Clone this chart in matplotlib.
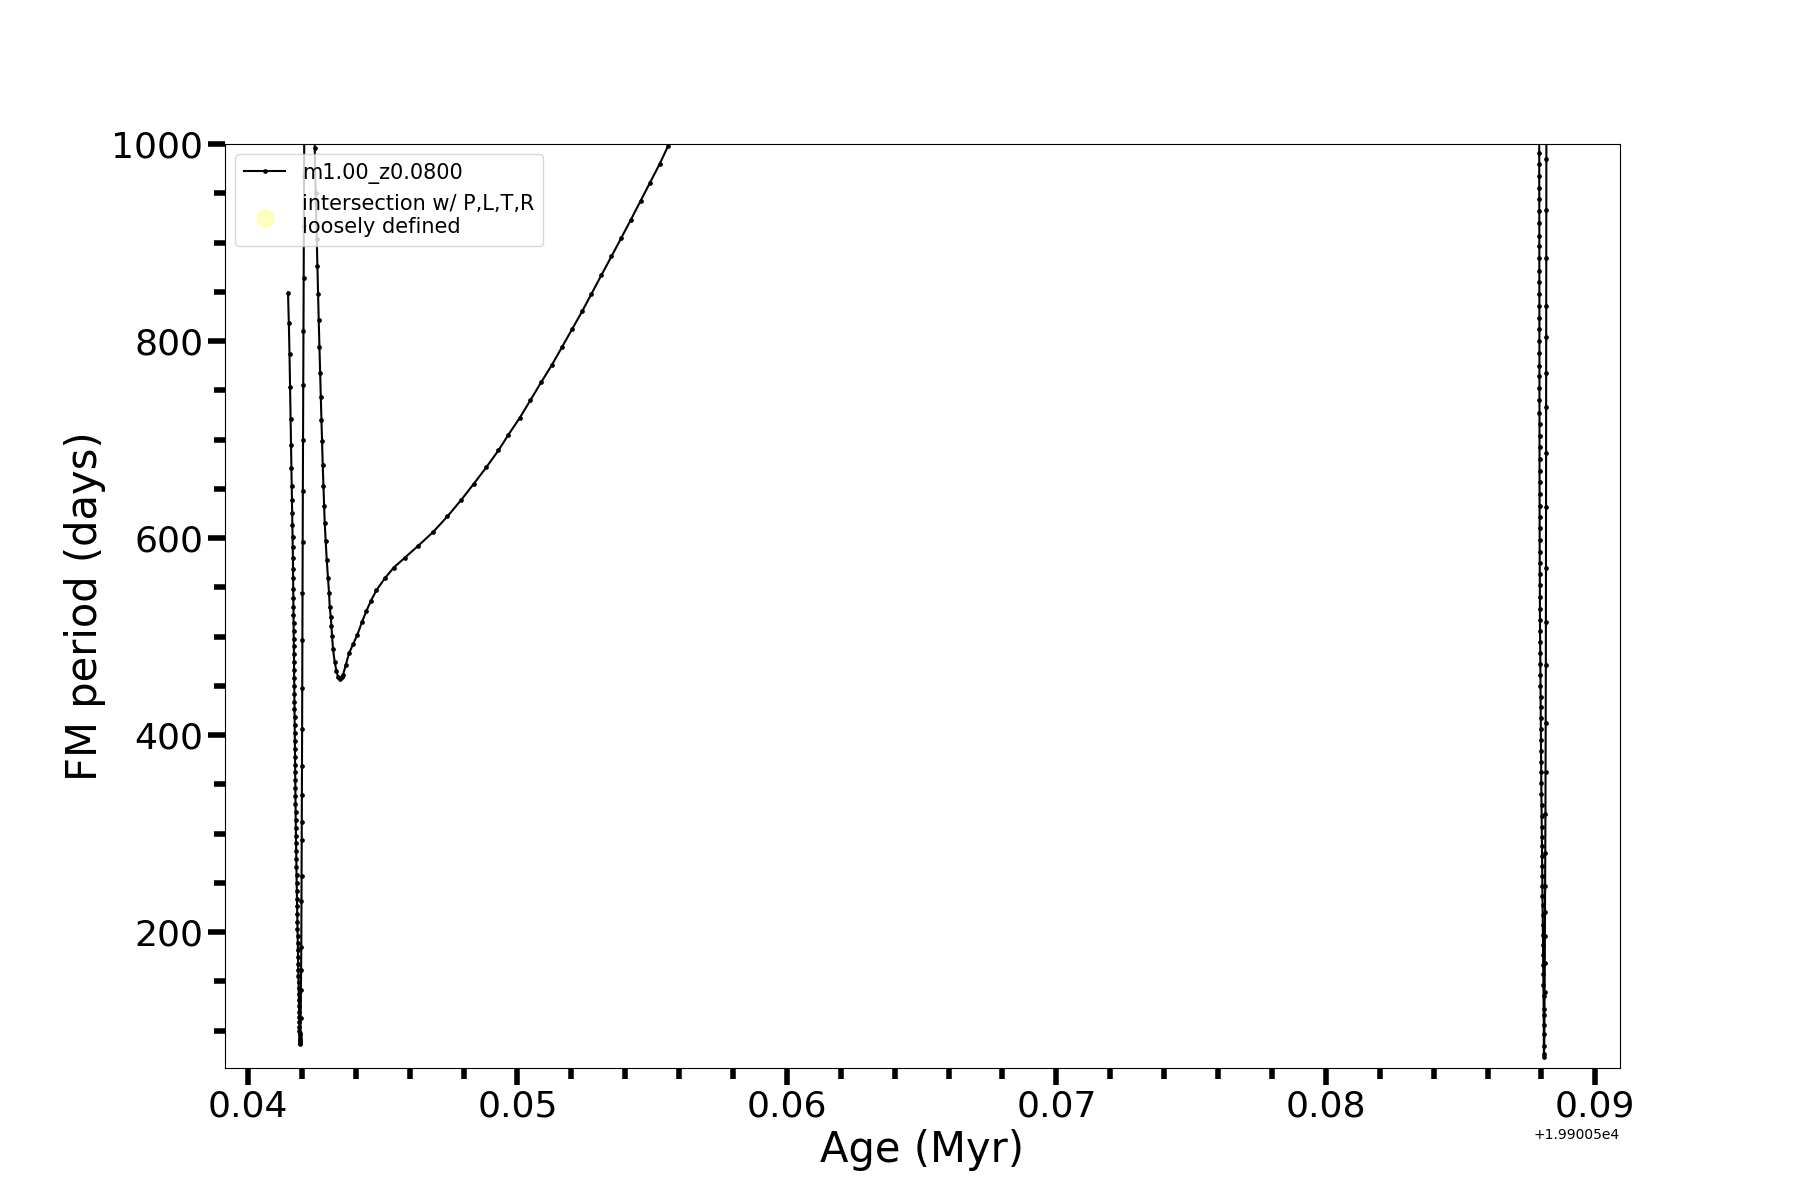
import matplotlib
matplotlib.use("Agg")
import matplotlib.pyplot as plt
from matplotlib.ticker import AutoMinorLocator

# ages are stored relative to this base (Myr)
age_base = 19900.5

# first dip (left spike), going down
dip1_down_age = [0.041485, 0.041515, 0.041540, 0.041560, 0.041580, 0.041592, 0.041605, 0.041618,
                 0.041628, 0.041638, 0.041646, 0.041654, 0.041660, 0.041666, 0.041671, 0.041675,
                 0.041679, 0.041682, 0.041685, 0.041688, 0.041691, 0.041694, 0.041697, 0.041700,
                 0.041703, 0.041706, 0.041709, 0.041712, 0.041714, 0.041717, 0.041720, 0.041723,
                 0.041726, 0.041729, 0.041732, 0.041736, 0.041739, 0.041742, 0.041745, 0.041748,
                 0.041751, 0.041755, 0.041758, 0.041762, 0.041766, 0.041770, 0.041774, 0.041778,
                 0.041783, 0.041787, 0.041792, 0.041796, 0.041801, 0.041806, 0.041811, 0.041816,
                 0.041821, 0.041826, 0.041831, 0.041836, 0.041841, 0.041846, 0.041851, 0.041856,
                 0.041861, 0.041866, 0.041871, 0.041876, 0.041881, 0.041885, 0.041889, 0.041893,
                 0.041897, 0.041900, 0.041903, 0.041906, 0.041909, 0.041912, 0.041914, 0.041916,
                 0.041918, 0.041920]
dip1_down_period = [849, 818, 787, 753, 721, 694, 671, 653,
                    639, 625, 613, 601, 591, 580, 569, 559,
                    548, 539, 530, 522, 514, 506, 498, 490,
                    482, 474, 466, 458, 450, 442, 434, 426,
                    418, 410, 402, 394, 386, 378, 370, 362,
                    354, 346, 338, 330, 322, 314, 306, 298,
                    290, 282, 274, 266, 258, 250, 242, 234,
                    226, 218, 210, 203, 196, 189, 182, 175,
                    168, 161, 155, 149, 143, 137, 131, 125,
                    119, 114, 109, 104, 100, 96, 92, 89,
                    87, 86]

# first dip, going back up and over the top of the panel
dip1_up_age = [0.041935, 0.041945, 0.041955, 0.041965, 0.041972, 0.041978, 0.041985, 0.041990,
               0.041995, 0.041998, 0.042001, 0.042004, 0.042008, 0.042012, 0.042016, 0.042022,
               0.042028, 0.042035, 0.042042, 0.042050, 0.042057, 0.042064, 0.042070, 0.042076,
               0.042082, 0.042095, 0.042150, 0.042300, 0.042440, 0.042465]
dip1_up_period = [90, 98, 113, 141, 161, 185, 232, 257,
                  293, 312, 339, 369, 406, 448, 496, 544,
                  596, 648, 700, 755, 810, 864, 917, 968,
                  1020, 1110, 1300, 1300, 1110, 1040]

# coming down into the shallow minimum
fall_age = [0.042476, 0.042510, 0.042550, 0.042576, 0.042598, 0.042624, 0.042650, 0.042673,
            0.042699, 0.042725, 0.042747, 0.042773, 0.042799, 0.042821, 0.042847, 0.042884,
            0.042921, 0.042970, 0.043007, 0.043033, 0.043070, 0.043096, 0.043118, 0.043155,
            0.043219, 0.043281, 0.043341, 0.043400]
fall_period = [996, 950, 904, 876, 848, 821, 794, 768,
               743, 720, 698, 674, 653, 633, 615, 597,
               578, 559, 544, 530, 520, 511, 501, 487,
               474, 465, 459, 457]

# long rise after the minimum, leaving the panel at the top
rise_age = [0.043470, 0.043526, 0.043627, 0.043749, 0.043898, 0.044061, 0.044232, 0.044395,
            0.044555, 0.044766, 0.045074, 0.045408, 0.045817, 0.046310, 0.046867, 0.047402,
            0.047921, 0.048378, 0.048849, 0.049295, 0.049666, 0.050085, 0.050483, 0.050876,
            0.051284, 0.051656, 0.052027, 0.052398, 0.052747, 0.053118, 0.053489, 0.053860,
            0.054206, 0.054566, 0.054911, 0.055282, 0.055590,
            0.056400, 0.058000, 0.065000, 0.075000, 0.084000, 0.087600, 0.087880, 0.087910]
rise_period = [459, 461, 471, 483, 492, 502, 515, 526,
               536, 547, 559, 570, 580, 592, 606, 622,
               639, 655, 672, 689, 705, 722, 740, 758,
               776, 794, 812, 830, 848, 867, 886, 905,
               923, 942, 960, 980, 998,
               1080, 1400, 2500, 3600, 4200, 3500, 2000, 1200]

# second dip (right spike), going down
dip2_down_age = [0.087921, 0.087921, 0.087922, 0.087922, 0.087922, 0.087923, 0.087923, 0.087923,
                 0.087924, 0.087924, 0.087924, 0.087925, 0.087925, 0.087925, 0.087926, 0.087926,
                 0.087926, 0.087927, 0.087927, 0.087927, 0.087928, 0.087928, 0.087929, 0.087929,
                 0.087930, 0.087930, 0.087931, 0.087931, 0.087932, 0.087932, 0.087933, 0.087933,
                 0.087934, 0.087935, 0.087936, 0.087937, 0.087938, 0.087939, 0.087941, 0.087943,
                 0.087945, 0.087947, 0.087950, 0.087953, 0.087956, 0.087959, 0.087962, 0.087965,
                 0.087968, 0.087971, 0.087974, 0.087977, 0.087980, 0.087984, 0.087988, 0.087992,
                 0.087996, 0.088000, 0.088004, 0.088008, 0.088012, 0.088016, 0.088020, 0.088024,
                 0.088028, 0.088032, 0.088036, 0.088040, 0.088044, 0.088048, 0.088052, 0.088056,
                 0.088060, 0.088064, 0.088068, 0.088072, 0.088076, 0.088080, 0.088084, 0.088088,
                 0.088092]
dip2_down_period = [1003, 991, 980, 968, 955, 944, 932, 920,
                    907, 896, 884, 871, 860, 848, 836, 823,
                    812, 800, 788, 775, 764, 752, 740, 727,
                    716, 704, 692, 680, 668, 657, 645, 633,
                    621, 610, 598, 586, 575, 563, 552, 540,
                    528, 517, 506, 494, 483, 472, 461, 450,
                    439, 428, 417, 406, 395, 384, 373, 362,
                    351, 340, 329, 318, 307, 297, 287, 277,
                    267, 257, 247, 237, 227, 217, 207, 197,
                    187, 177, 167, 157, 146, 135, 122, 106,
                    73]

# second dip, going back up
dip2_up_age = [0.088100, 0.088105, 0.088110, 0.088115, 0.088120, 0.088125, 0.088130, 0.088135,
               0.088140, 0.088145, 0.088150, 0.088155, 0.088160, 0.088165, 0.088168, 0.088170,
               0.088172, 0.088174, 0.088175, 0.088176, 0.088177, 0.088178, 0.088179, 0.088180,
               0.088181, 0.088185, 0.088190]
dip2_up_period = [76, 84, 97, 116, 139, 169, 196, 220,
                  247, 280, 320, 362, 412, 471, 515, 570,
                  631, 686, 733, 768, 804, 836, 884, 933,
                  985, 1060, 1150]

age = [age_base + a for a in (dip1_down_age + dip1_up_age + fall_age + rise_age
                              + dip2_down_age + dip2_up_age)]
period = (dip1_down_period + dip1_up_period + fall_period + rise_period
          + dip2_down_period + dip2_up_period)

fig, ax = plt.subplots(figsize=(18, 12), dpi=100)

ax.plot(age, period, color="black", linewidth=1.5, marker="o", markersize=3.4,
        markeredgewidth=0, label="m1.00_z0.0800")
# nothing matched, only shows up in the legend
ax.scatter([], [], color="yellow", alpha=0.25, s=140,
           label="intersection w/ P,L,T,R\nloosely defined")

ax.set_xlim(age_base + 0.039146, age_base + 0.090917)
ax.set_ylim(62, 1000)

ax.xaxis.set_minor_locator(AutoMinorLocator(5))
ax.yaxis.set_minor_locator(AutoMinorLocator(4))
ax.tick_params(which="major", length=12, width=4, labelsize=26)
ax.tick_params(which="minor", length=8, width=4)
ax.xaxis.get_offset_text().set_fontsize(10)

ax.set_xlabel("Age (Myr)", fontsize=30)
ax.set_ylabel("FM period (days)", fontsize=30)
ax.legend(loc="upper left", fontsize=15)

plt.savefig("out.png", dpi=100)
